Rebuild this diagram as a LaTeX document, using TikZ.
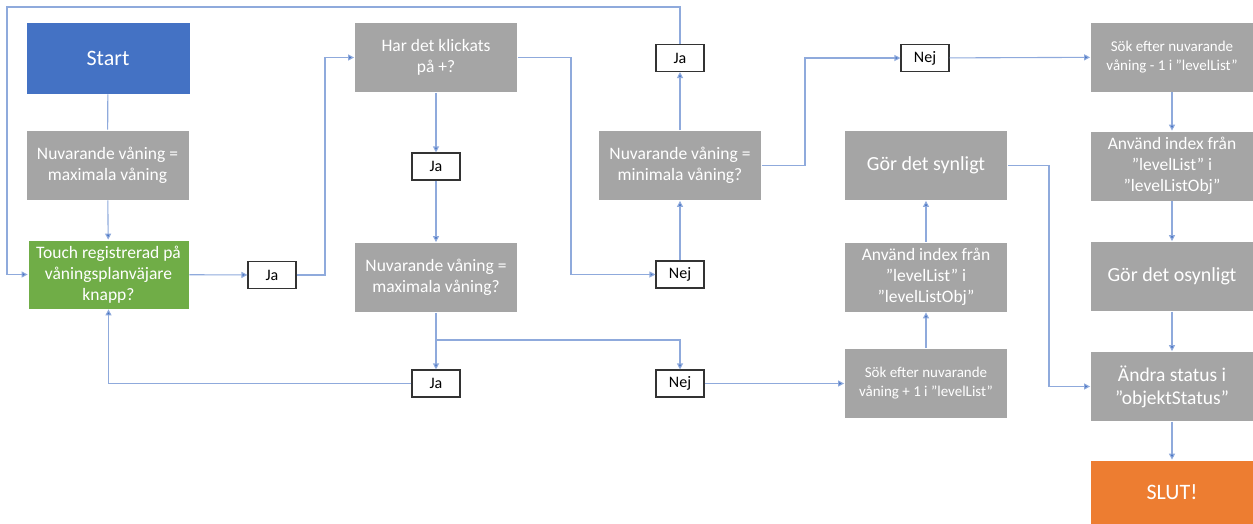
\documentclass[tikz,border=0pt]{standalone}
\usepackage{fontspec}
\setmainfont{Carlito}
\usetikzlibrary{arrows.meta}
\definecolor{startblue}{RGB}{68,114,196}
\definecolor{boxgray}{RGB}{165,165,165}
\definecolor{touchgreen}{RGB}{112,173,71}
\definecolor{endorange}{RGB}{237,125,49}
\definecolor{linkblue}{RGB}{143,170,220}
\definecolor{tipblue}{RGB}{68,114,196}
\begin{document}
\begin{tikzpicture}[x=1pt,y=-1pt,
  proc/.style={fill=boxgray, draw=white, line width=0.8pt, text=white,
    minimum width=163pt, minimum height=70pt, align=center, inner sep=2pt,
    font=\fontsize{17.5}{21}\selectfont},
  answer/.style={fill=white, draw=black!80, line width=1.1pt,
    minimum width=48pt, minimum height=27pt, inner sep=0pt,
    font=\fontsize{16}{18}\selectfont},
  link/.style={draw=linkblue, line width=1.1pt},
  flow/.style={link, -{Triangle[length=6pt,width=6pt,fill=tipblue]}}]
\useasboundingbox (0,0) rectangle (1253,523);

% column 1
\node[proc, fill=startblue, minimum width=164pt, minimum height=72pt,
      font=\fontsize{22}{26}\selectfont] (start) at (108,58) {Start};
\node[proc] (setmax) at (107.5,165) {Nuvarande våning =\\maximala våning};
\node[proc, fill=touchgreen, minimum width=161pt, minimum height=69pt] (touch) at (108.5,274.5)
  {Touch registrerad på\\våningsplanväjare\\knapp?};
\node[answer] (ja1) at (272,275) {Ja};

% column 2
\node[proc] (plus) at (436,57.5) {Har det klickats\\på +?};
\node[answer] (ja2) at (436,166.5) {Ja};
\node[proc] (ismax) at (436,277.5) {Nuvarande våning =\\maximala våning?};
\node[answer] (ja3) at (436,383.5) {Ja};

% column 3
\node[answer] (ja4) at (680,58) {Ja};
\node[proc] (ismin) at (680,165.5) {Nuvarande våning =\\minimala våning?};
\node[answer] (nej2) at (680,274.5) {Nej};
\node[answer] (nej3) at (680,383.5) {Nej};

% column 4
\node[answer] (nej4) at (925,58) {Nej};
\node[proc, font=\fontsize{20}{24}\selectfont] (show) at (926,165.5) {Gör det synligt};
\node[proc, font=\fontsize{17.5}{21}\selectfont] (useup) at (926,277) {Använd index från\\”levelList” i\\”levelListObj”};
\node[proc, font=\fontsize{15}{19}\selectfont] (findup) at (926,383.5) {Sök efter nuvarande\\våning + 1 i ”levelList”};

% column 5
\node[proc, font=\fontsize{15}{19}\selectfont] (finddown) at (1172,57) {Sök efter nuvarande\\våning - 1 i ”levelList”};
\node[proc, font=\fontsize{17.5}{21}\selectfont] (usedown) at (1172,166) {Använd index från\\”levelList” i\\”levelListObj”};
\node[proc, font=\fontsize{20}{24}\selectfont] (hide) at (1172,276.5) {Gör det osynligt};
\node[proc, font=\fontsize{19.5}{23}\selectfont] (status) at (1172,386.5) {Ändra status i\\”objektStatus”};
\node[proc, fill=endorange, minimum height=64pt, font=\fontsize{22}{26}\selectfont] (slut) at (1172,492) {SLUT!};

% connectors
\draw[link] (start) -- (setmax);
\draw[flow] (setmax) -- (touch);
\draw[flow] (touch) -- (ja1);
\draw[flow] (ja1.east) -- (325,275) |- (plus.west);
\draw[flow] (plus) -- (ja2);
\draw[flow] (ja2) -- (ismax);
\draw[flow] (plus.east) -- (571,57.5) |- (nej2.west);
\draw[flow] (nej2) -- (ismin);
\draw[flow] (ismin) -- (ja4);
\draw[flow] (ja4.north) -- (680,7) -- (7,7) |- (touch.west);
\draw[flow] (ismin.east) -- (805,165.5) |- (nej4.west);
\draw[flow] (nej4) -- (finddown);
\coordinate (split) at (436,340);
\draw[link] (ismax.south) -- (split);
\draw[flow] (split) -- (ja3.north);
\draw[flow] (split) -| (nej3.north);
\draw[flow] (ja3.west) -| (touch.south);
\draw[flow] (nej3) -- (findup);
\draw[flow] (findup) -- (useup);
\draw[flow] (useup) -- (show);
\draw[flow] (show.east) -- (1049,165.5) |- (status.west);
\draw[flow] (finddown) -- (usedown);
\draw[flow] (usedown) -- (hide);
\draw[flow] (hide) -- (status);
\draw[flow] (status) -- (slut);
\end{tikzpicture}
\end{document}
